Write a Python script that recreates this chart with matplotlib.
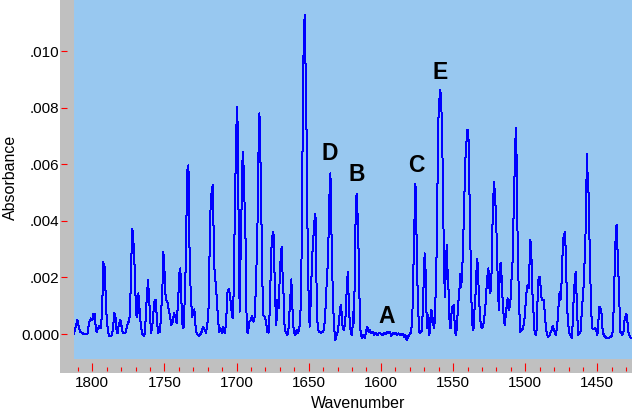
import matplotlib
matplotlib.use("Agg")
import matplotlib.pyplot as plt
import matplotlib.patches as patches
import numpy as np

plt.rcParams['font.family'] = ['Liberation Sans', 'DejaVu Sans']

# spectrum: wavenumber (cm-1) and absorbance (x 1e-3)
wavenumber = [
    1812.7, 1810.4, 1808.5, 1805.8, 1803.4, 1802.3, 1801.1, 1800.0, 1799.3, 1798.4,
    1797.7, 1797.0, 1795.4, 1794.2, 1793.3, 1792.3, 1791.9, 1791.4, 1790.7, 1790.0,
    1789.1, 1788.2, 1786.8, 1785.9, 1784.7, 1784.0, 1783.1, 1782.4, 1781.7, 1780.6,
    1779.9, 1779.0, 1776.9, 1775.7, 1774.3, 1773.4, 1772.7, 1772.3, 1771.6, 1770.9,
    1770.2, 1769.5, 1768.8, 1768.1, 1767.4, 1766.5, 1765.6, 1763.9, 1763.0, 1762.3,
    1761.4, 1760.7, 1760.0, 1759.3, 1758.4, 1757.7, 1756.8, 1756.1, 1755.4, 1754.5,
    1753.1, 1752.2, 1751.5, 1750.8, 1750.1, 1749.4, 1748.7, 1747.8, 1747.1, 1746.2,
    1745.2, 1744.3, 1743.4, 1742.5, 1741.5, 1740.4, 1739.7, 1739.0, 1738.3, 1737.4,
    1736.5, 1735.8, 1735.1, 1734.4, 1733.9, 1733.4, 1733.0, 1732.5, 1731.6, 1730.7,
    1730.0, 1729.3, 1728.6, 1727.7, 1726.1, 1724.7, 1723.1, 1722.1, 1721.2, 1720.3,
    1719.4, 1718.7, 1718.0, 1717.3, 1716.6, 1716.1,
    1715.7, 1713.8, 1712.9, 1712.0, 1711.0, 1710.1, 1709.2, 1708.3, 1707.3, 1706.4,
    1705.5, 1704.6, 1703.6, 1702.7, 1702.3, 1701.3, 1700.4, 1700.0, 1699.5, 1699.0,
    1698.3, 1697.9, 1697.2, 1696.3, 1695.8, 1695.3, 1694.4, 1693.7, 1693.0, 1692.1,
    1691.2, 1690.2, 1689.3, 1688.4, 1687.5, 1686.6, 1685.6, 1684.9, 1684.2, 1683.6,
    1682.9, 1682.2, 1681.5, 1680.6, 1679.6, 1678.7, 1677.8, 1676.9, 1676.2, 1675.5,
    1674.5, 1673.8, 1673.2, 1672.5, 1671.8, 1670.8, 1670.2, 1669.5, 1668.8, 1668.1,
    1667.4, 1666.7, 1665.8, 1664.8, 1664.2, 1663.5, 1662.8, 1662.1, 1661.6, 1660.9,
    1660.2, 1659.3, 1658.4, 1657.4, 1656.5, 1655.8, 1655.1, 1654.4, 1653.8, 1653.3,
    1652.8, 1652.4, 1651.9, 1651.2, 1650.7, 1650.1, 1649.4, 1648.7, 1647.7, 1646.8,
    1646.1, 1645.4, 1645.0, 1644.5, 1643.8, 1642.9, 1641.7, 1640.4, 1639.4, 1638.5,
    1637.6, 1636.7, 1636.0, 1635.5, 1635.0, 1634.4, 1633.7, 1633.0, 1632.3, 1631.6,
    1630.7, 1629.7, 1628.8, 1627.9, 1627.2, 1626.5, 1625.6, 1624.7, 1623.7, 1623.0,
    1622.3, 1621.6, 1620.7, 1620.0, 1619.1,
    1618.6, 1617.9, 1617.3, 1616.8, 1616.3, 1615.6, 1614.9, 1614.5, 1614.0, 1613.1,
    1612.2, 1611.2, 1610.3, 1609.4, 1608.5, 1607.6, 1606.6, 1605.7, 1604.8, 1603.9,
    1602.5, 1601.1, 1600.2, 1598.8, 1597.4, 1596.5, 1595.5, 1594.6, 1593.7, 1592.8,
    1591.8, 1590.9, 1590.0, 1589.1, 1587.7, 1586.3, 1584.9, 1584.0, 1583.1, 1582.1,
    1581.2, 1580.3, 1579.4, 1578.4, 1577.8, 1577.1, 1576.6, 1576.1, 1575.7, 1575.0,
    1574.3, 1573.6, 1573.0, 1572.2, 1571.5, 1570.8, 1570.1, 1569.7, 1569.2, 1568.5,
    1567.8, 1567.1, 1566.4, 1565.7, 1565.0, 1564.4, 1563.7, 1563.0, 1562.3, 1561.6,
    1560.9, 1560.2, 1559.5, 1558.8, 1558.1, 1557.4, 1556.7, 1556.2, 1555.6, 1554.9,
    1554.4, 1553.7, 1553.0, 1552.3, 1551.6, 1550.9, 1550.3, 1549.6, 1548.9, 1548.2,
    1547.5, 1546.6, 1545.6, 1544.9, 1544.3, 1543.6, 1542.9, 1542.2, 1541.5, 1540.8,
    1540.1, 1539.4, 1538.7, 1538.0, 1537.3, 1536.6, 1535.9, 1535.2, 1534.6, 1533.9,
    1533.2, 1532.5, 1531.8, 1530.9, 1530.2, 1529.5, 1528.6, 1527.6, 1526.9, 1526.2,
    1525.5, 1524.9, 1524.2, 1523.5, 1522.8, 1522.1,
    1521.6, 1520.9, 1520.2, 1519.5, 1518.8, 1518.2, 1517.7, 1517.2, 1516.8, 1516.3,
    1515.6, 1514.9, 1514.2, 1513.5, 1512.8, 1512.2, 1511.5, 1510.8, 1510.1, 1509.4,
    1508.7, 1508.0, 1507.3, 1506.8, 1506.4, 1505.9, 1505.4, 1504.8, 1504.1, 1503.4,
    1502.5, 1501.5, 1500.6, 1499.7, 1499.0, 1498.3, 1497.6, 1497.1, 1496.4, 1495.7,
    1495.0, 1494.4, 1493.7, 1492.7, 1492.0, 1491.4, 1490.7, 1490.0, 1489.3, 1488.6,
    1487.9, 1487.2, 1486.5, 1485.8, 1485.1, 1484.4, 1483.7, 1483.0, 1482.4, 1481.7,
    1481.0, 1480.3, 1479.6, 1478.9, 1478.2, 1477.5, 1476.8, 1476.1, 1475.7, 1475.2,
    1474.5, 1473.8, 1473.1, 1472.4, 1471.7, 1471.0, 1470.3, 1469.6, 1468.9, 1468.2,
    1467.6, 1466.9, 1466.2, 1465.5, 1465.0, 1464.6, 1463.9, 1463.2, 1462.5, 1461.8,
    1461.1, 1460.4, 1459.7, 1459.0, 1458.3, 1457.6, 1457.2, 1456.7, 1456.2, 1455.6,
    1454.9, 1454.2, 1453.5, 1452.8, 1452.1, 1451.4, 1450.7, 1450.0, 1449.3, 1448.6,
    1447.9, 1447.2, 1446.5, 1445.6, 1444.7, 1443.5, 1442.4, 1441.2, 1440.1, 1439.2,
    1438.5, 1437.8, 1437.1, 1436.6, 1436.2, 1435.5, 1434.8, 1434.1, 1433.4, 1432.7,
    1432.0, 1431.3, 1430.6, 1429.9, 1429.2, 1428.5, 1427.8, 1426.9, 1426.0,
]

absorbance = [
    0.02, 0.49, 0.08, 0.00, 0.00, 0.38, 0.55, 0.49, 0.71, 0.71,
    0.26, 0.08, 0.28, 0.20, 0.73, 2.56, 2.03, 2.38, 1.26, 0.49,
    0.08, -0.07, -0.07, 0.12, 0.75, 0.61, 0.08, 0.02, 0.32, 0.49,
    0.32, 0.05, 0.05, 0.34, 0.49, 1.61, 3.20, 3.73, 3.32, 2.67,
    1.50, 0.67, 0.61, 1.44, 0.97, 0.38, 0.02, -0.07, 0.55, 1.26,
    1.91, 1.32, 0.67, 0.02, 0.32, 0.73, 1.20, 1.22, 0.67, 0.05,
    0.08, 0.91, 1.50, 2.91, 2.38, 1.44, 1.20, 1.11, 0.85, 0.64,
    0.32, 0.44, 0.73, 0.61, 0.38, 1.32, 2.14, 2.32, 1.20, 0.20,
    0.26, 1.67, 2.61, 5.62, 5.91, 5.96, 4.50, 2.44, 1.20, 0.61,
    0.79, 0.87, 0.32, 0.02, -0.07, 0.02, 0.26, 0.14, 0.05, 0.32,
    0.97, 3.03, 4.62, 5.03, 5.27, 4.15,
    2.50, 1.32, 0.49, 0.08, 0.20, 0.05, 0.26, 0.02, 0.38, 1.44,
    1.61, 1.38, 0.85, 0.55, 0.91, 3.97, 6.86, 7.56, 8.03, 5.80,
    2.38, 0.79, 2.97, 5.27, 6.44, 6.09, 4.38, 3.09, 0.08, 0.05,
    0.44, 0.49, 0.64, 0.44, 0.61, 1.70, 3.67, 6.27, 7.80, 6.50,
    4.38, 1.91, 0.67, 0.61, 0.44, 0.08, 0.05, 0.97, 2.67, 3.38,
    3.62, 2.32, 1.14, 0.32, 1.20, 0.91, 1.91, 2.67, 3.09, 2.03,
    1.32, 0.14, 0.05, -0.04, 0.08, 0.64, 1.26, 1.93, 1.32, 0.38,
    0.05, -0.04, 0.14, 0.02, 0.20, 0.67, 2.32, 6.27, 9.45, 10.86,
    11.27, 10.04, 8.39, 5.91, 2.50, 1.38, 0.26, 1.08, 2.67, 3.44,
    3.97, 4.26, 3.32, 1.20, 0.20, 0.08, 0.05, 0.08, 0.14, 0.79,
    1.79, 2.61, 4.20, 5.21, 5.68, 3.91, 2.14, 0.85, 0.14, -0.21,
    -0.04, 0.14, 0.61, 1.02, 0.73, 0.20, 0.14, 0.44, 1.55, 2.20,
    1.20, 0.38, 0.02, -0.04, 0.79,
    0.38, 3.09, 4.73, 4.97, 4.38, 3.20, 1.38, 0.38, 0.00, -0.15,
    -0.04, -0.15, 0.08, 0.26, 0.08, 0.14, 0.02, 0.08, -0.04, 0.05,
    -0.04, 0.05, 0.02, -0.04, 0.05, 0.00, 0.08, 0.02, 0.08, -0.07,
    0.05, 0.00, 0.05, -0.04, 0.02, -0.04, 0.00, -0.09, -0.04, -0.21,
    -0.09, -0.04, 0.05, 0.38, 1.44, 3.32, 4.38, 5.32, 4.73, 2.38,
    1.08, 0.14, 0.02, 0.08, 0.14, 1.20, 2.26, 2.85, 2.50, 0.85,
    0.20, 0.67, -0.04, 0.38, 0.85, 0.67, 0.32, 0.20, 1.08, 2.26,
    4.85, 7.56, 8.27, 8.62, 8.03, 6.50, 4.03, 2.14, 1.32, 2.50,
    3.14, 2.03, 1.44, 0.20, 0.20, 0.91, 0.97, 1.02, 0.38, -0.04,
    0.14, 0.97, 1.55, 2.14, 1.67, 2.32, 3.44, 4.73, 6.15, 6.74,
    7.23, 7.15, 5.09, 3.20, 1.20, 0.32, 0.14, 0.85, 1.20, 2.14,
    2.67, 1.91, 1.08, 0.38, 0.20, 0.26, 0.44, 0.97, 1.55, 2.03,
    2.32, 1.67, 1.44, 1.79, 3.67, 4.85,
    5.38, 4.85, 4.15, 2.73, 1.44, 0.85, 2.14, 2.50, 2.50, 1.91,
    1.14, 0.61, 0.32, 0.67, 1.02, 1.26, 0.85, 0.97, 1.26, 2.03,
    2.61, 4.38, 5.80, 6.86, 7.27, 5.97, 3.79, 2.14, 0.85, 0.08,
    0.14, 0.20, 0.49, 1.08, 1.55, 1.73, 1.61, 2.38, 3.32, 2.73,
    1.44, 0.91, 0.14, -0.04, 0.20, 1.32, 2.03, 2.03, 1.67, 1.20,
    1.20, 1.20, 0.79, 0.32, 0.02, -0.09, -0.09, -0.04, 0.08, 0.14,
    0.28, 0.16, 0.08, -0.04, 0.14, 0.49, 1.08, 1.50, 1.20, 1.32,
    2.26, 3.32, 3.50, 3.62, 2.50, 0.97, 0.38, 0.08, -0.04, -0.09,
    -0.15, 0.67, 1.50, 2.03, 2.20, 1.61, 0.61, -0.04, 0.08, 0.02,
    0.55, 1.08, 1.55, 2.38, 3.32, 5.15, 6.38, 5.44, 5.15, 3.67,
    2.03, 0.73, 0.20, 0.16, 0.20, 0.20, 0.12, -0.04, 0.49, 0.97,
    0.91, 0.79, 0.20, -0.04, -0.09, -0.15, -0.13, -0.12, -0.07, 0.14,
    1.26, 2.73, 3.79, 3.85, 3.20, 2.26, 1.14, 0.08, 0.05, -0.04,
    0.02, 0.44, 0.61, 0.71, 0.44, 0.05, -0.04, -0.15, -0.15,
]

peak_labels = ["D", "B", "A", "C", "E"]
peak_label_x = [1635.5, 1616.8, 1596.3, 1575.5, 1558.8]
peak_label_y = [6.17, 5.42, 0.38, 5.72, 9.00]

y_ticks = [0, 2, 4, 6, 8, 10]
y_tick_labels = ["0.000", ".002", ".004", ".006", ".008", ".010"]
x_ticks = [1800, 1750, 1700, 1650, 1600, 1550, 1500, 1450]

W, H = 632, 412
fig = plt.figure(figsize=(W / 100, H / 100), dpi=100)

# grey frame behind the plot area
frame = patches.Rectangle((60 / W, 1 - 372.7 / H), 572 / W, 372.7 / H,
                          transform=fig.transFigure, facecolor="#c0c0c0",
                          edgecolor="none", zorder=-10)
fig.patches.append(frame)

ax = fig.add_axes([74 / W, 1 - 359.3 / H, 558 / W, 359.3 / H])
ax.set_zorder(1)
ax.set_facecolor("#98c8f0")
ax.plot(wavenumber, absorbance, color="#0000ff", lw=0.72, antialiased=False)

ax.set_xlim(1812.7, 1426.0)
ax.set_ylim(-0.894, 11.81)

for s in ax.spines.values():
    s.set_visible(False)
ax.spines["bottom"].set_position(("outward", 11.4 * 0.72))
ax.spines["left"].set_position(("outward", 13 * 0.72))

ax.set_xticks(x_ticks)
ax.set_xticks(np.arange(1810, 1425, -10), minor=True)
ax.set_yticks(y_ticks)
ax.set_yticklabels(y_tick_labels)

ax.tick_params(axis="x", which="major", direction="in", length=6.0, width=0.8,
               color="red", labelsize=11, pad=4)
ax.tick_params(axis="x", which="minor", direction="in", length=2.7, width=0.8,
               color="red")
ax.tick_params(axis="y", which="major", direction="in", length=4.1, width=0.8,
               color="red", labelsize=11, pad=1.2)

for lab, lx, ly in zip(peak_labels, peak_label_x, peak_label_y):
    ax.text(lx, ly, lab, ha="center", va="baseline", fontsize=16.5,
            fontweight="bold", color="black")

fig.text(358 / W, 1 - 408 / H, "Wavenumber", ha="center", va="baseline", fontsize=11.5)
fig.text(3 / W, 1 - 177 / H, "Absorbance", rotation=90, ha="left", va="center",
         fontsize=11.5)

fig.savefig("out.png", dpi=100)
